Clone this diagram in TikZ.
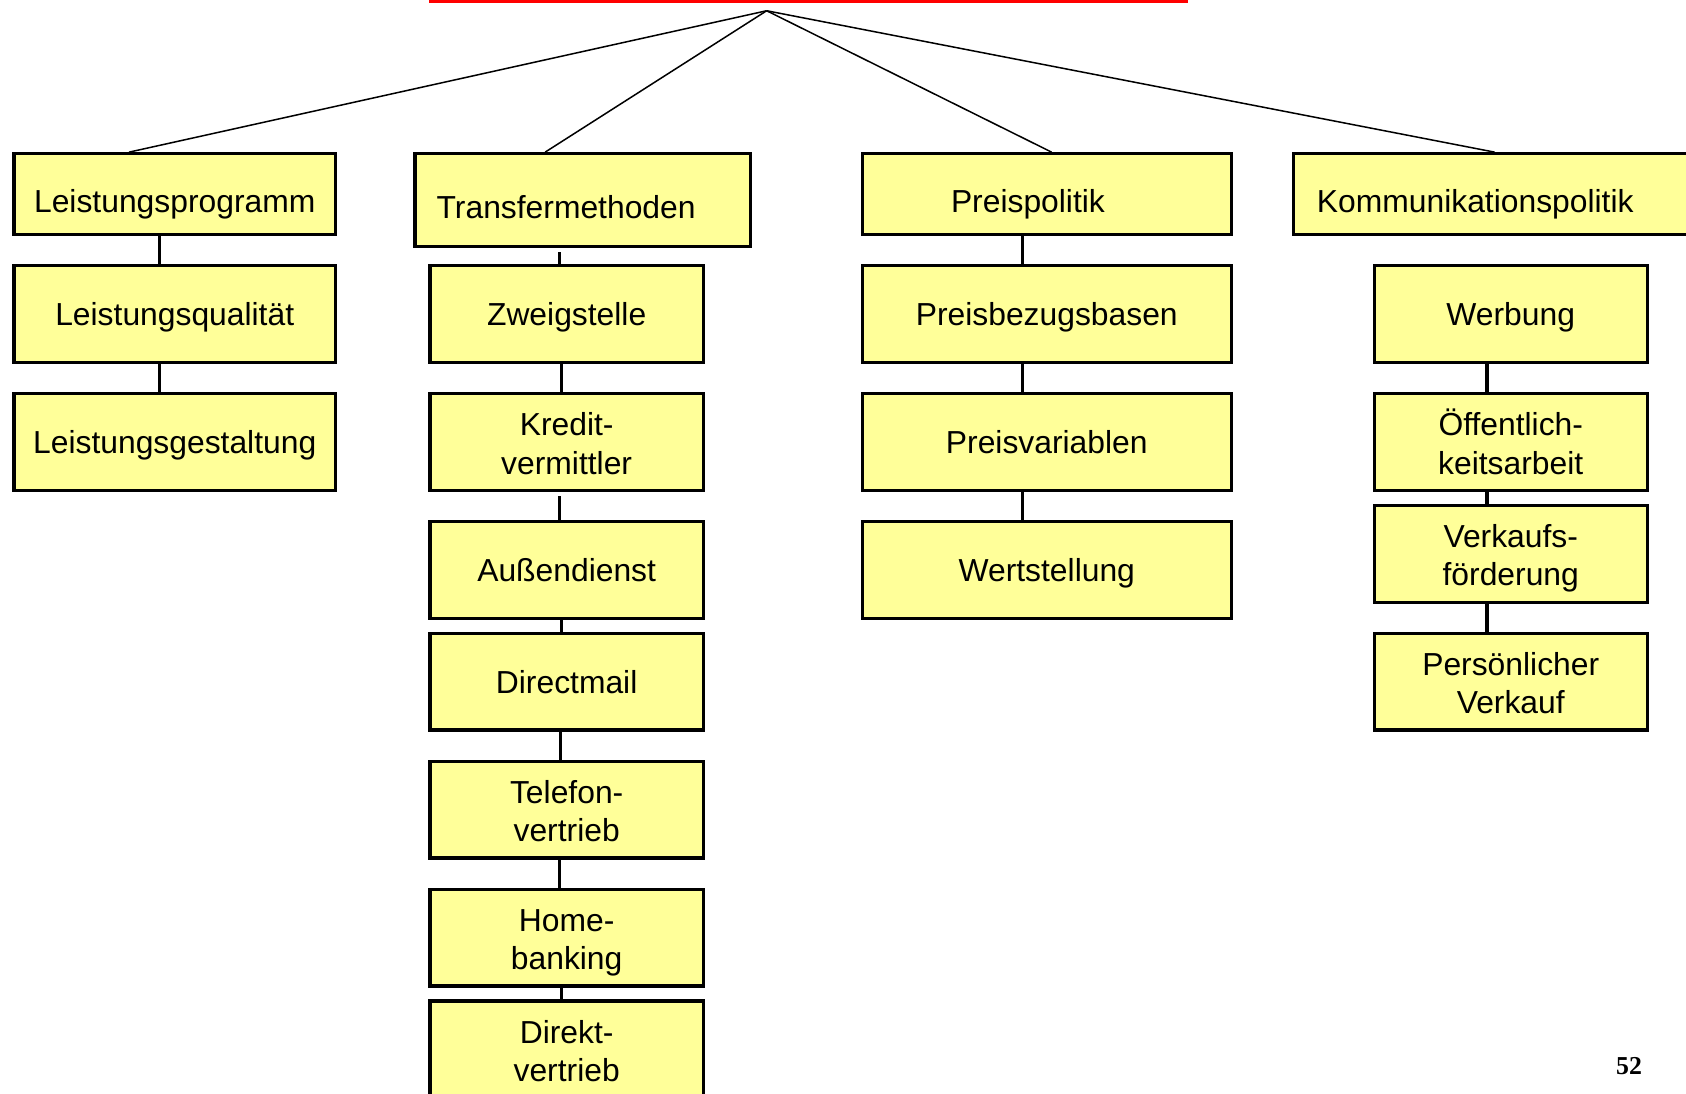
\documentclass[tikz,border=0pt]{standalone}
\usepackage{fontspec}
\setmainfont{Liberation Sans}
\newfontfamily\seitenfont{Liberation Serif}
\definecolor{gelb}{HTML}{FFFF99}
\newcommand{\zs}{\rule[-3pt]{0pt}{17pt}}
\newcommand{\hoch}{\rule{0pt}{15pt}}
\tikzset{
  kasten/.style={draw=black, line width=1.5pt, fill=gelb, align=center, inner sep=0pt,
    execute at begin node=\zs, execute at end node=\zs},
  klein/.style={kasten, minimum width=127pt, minimum height=45pt},
  stiel/.style={line width=1.5pt},
  ast/.style={line width=0.7pt}
}

\begin{document}
\begin{tikzpicture}[x=0.5pt, y=-0.5pt, font=\fontsize{14.8}{18}\selectfont]
			%%%%% START %%%%%
			\useasboundingbox (0,0) rectangle (1568,1017);
			
			\draw[red, line width=2pt] (399,1) -- (1105,1);
			\coordinate (spitze) at (713,10);
			
			% Kopfzeile
			\node[kasten, minimum width=149.5pt, minimum height=37.5pt, label={[yshift=-4.75pt]center:Leistungsprogramm}] (lprog) at (162.5,180.5) {};
			\node[kasten, minimum width=156pt, minimum height=43pt, label={[xshift=-7.75pt, yshift=-3.5pt]center:Transfermethoden}] (trans) at (542,186) {};
			\node[kasten, minimum width=171.5pt, minimum height=37.5pt, label={[xshift=-8.75pt, yshift=-4.75pt]center:Preispolitik}] (preis) at (973.5,180.5) {};
			\node[kasten, minimum width=193.5pt, minimum height=37.5pt, label={[xshift=-12.25pt, yshift=-4.75pt]center:Kommunikationspolitik}] (komm) at (1396.5,180.5) {};
			
			\draw[ast] (spitze) -- ([xshift=-21.25pt]lprog.north);
			\draw[ast] (spitze) -- ([xshift=-17.5pt]trans.north);
			\draw[ast] (spitze) -- ([xshift=2.25pt]preis.north);
			\draw[ast] (spitze) -- ([xshift=-3.25pt]komm.north);
			
			% Leistungsprogramm
			\node[kasten, minimum width=149.5pt, minimum height=45pt] (lqual) at (162.5,292) {Leistungsqualität};
			\node[kasten, minimum width=149.5pt, minimum height=45pt] (lgest) at (162.5,411) {Leistungsgestaltung};
			
			\draw[stiel] ([xshift=-7.25pt]lprog.south) -- ([xshift=-7.25pt]lqual.north);
			\draw[stiel] ([xshift=-7.25pt]lqual.south) -- ([xshift=-7.25pt]lgest.north);
			
			% Transfermethoden
			\node[klein] (zweig) at (527,292) {Zweigstelle};
			\node[klein] (kredit) at (527,411) {\hoch Kredit-\\vermittler};
			\node[klein] (aussen) at (527,530) {Außendienst};
			\node[klein] (direct) at (527,634) {Directmail};
			\node[klein] (telefon) at (527,753) {\hoch Telefon-\\vertrieb};
			\node[klein] (home) at (527,872) {\hoch Home-\\banking};
			\node[klein] (direkt) at (527,976) {\hoch Direkt-\\vertrieb};
			
			\draw[stiel] ([xshift=-11pt, yshift=-2pt]trans.south) -- ([xshift=-3.5pt]zweig.north);
			\draw[stiel] ([xshift=-2.5pt]zweig.south) -- ([xshift=-2.5pt]kredit.north);
			\draw[stiel] ([xshift=-3.5pt, yshift=-2pt]kredit.south) -- ([xshift=-3.5pt]aussen.north);
			\draw[stiel] ([xshift=-2.5pt]aussen.south) -- ([xshift=-2.5pt]direct.north);
			\draw[stiel] ([xshift=-3pt]direct.south) -- ([xshift=-3pt]telefon.north);
			\draw[stiel] ([xshift=-3.5pt]telefon.south) -- ([xshift=-3.5pt]home.north);
			\draw[stiel] ([xshift=-2.5pt]home.south) -- ([xshift=-2.5pt]direkt.north);
			
			% Preispolitik
			\node[kasten, minimum width=171.5pt, minimum height=45pt] (bezug) at (973.5,292) {Preisbezugsbasen};
			\node[kasten, minimum width=171.5pt, minimum height=45pt] (pvar) at (973.5,411) {Preisvariablen};
			\node[kasten, minimum width=171.5pt, minimum height=45pt] (wert) at (973.5,530) {Wertstellung};
			
			\draw[stiel] ([xshift=-11.25pt]preis.south) -- ([xshift=-11.25pt]bezug.north);
			\draw[stiel] ([xshift=-11.25pt]bezug.south) -- ([xshift=-11.25pt]pvar.north);
			\draw[stiel] ([xshift=-11.25pt]pvar.south) -- ([xshift=-11.25pt]wert.north);
			
			% Kommunikationspolitik
			\node[klein] (werbung) at (1405,292) {Werbung};
			\node[klein] (oeff) at (1405,411) {\hoch Öffentlich-\\keitsarbeit};
			\node[klein] (vkf) at (1405,515) {\hoch Verkaufs-\\förderung};
			\node[klein] (pvk) at (1405,634) {\hoch Persönlicher\\Verkauf};
			
			\draw[stiel] ([xshift=-11pt]werbung.south) -- ([xshift=-11pt]oeff.north);
			\draw[stiel] ([xshift=-11pt]oeff.south) -- ([xshift=-11pt]vkf.north);
			\draw[stiel] ([xshift=-11pt]vkf.south) -- ([xshift=-11pt]pvk.north);
			
			\node[font=\seitenfont\bfseries\fontsize{12}{14}\selectfont] (seite) at (1515,991) {52};
			%%%%% END %%%%%
\end{tikzpicture}
\end{document}
